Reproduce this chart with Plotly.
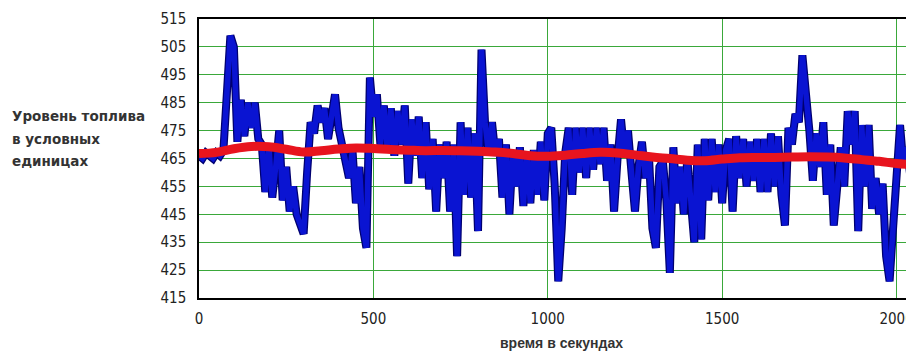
import plotly.graph_objects as go

# --- data ---
t_level = list(range(0, 2051, 10))
level = [
    466, 465, 467, 466, 465, 467, 466, 468, 490, 509,   # 0-90
    505, 471, 486, 473, 485, 476, 485, 472, 470, 453,   # 100-190
    470, 451, 462, 475, 450, 462, 446, 455, 445, 442,   # 200-290
    438, 460, 478, 474, 484, 478, 483, 472, 480, 488,   # 300-390
    476, 470, 465, 458, 468, 449, 462, 440, 433, 494,   # 400-490
    480, 488, 470, 484, 468, 483, 466, 482, 470, 484,   # 500-590
    456, 479, 466, 480, 458, 478, 454, 472, 446, 470,   # 600-690
    458, 471, 446, 470, 430, 478, 452, 476, 451, 474,   # 700-790
    439, 504, 478, 467, 478, 466, 472, 451, 470, 445,   # 800-890
    468, 455, 469, 448, 467, 449, 468, 452, 471, 450,   # 900-990
    474, 476, 455, 421, 440, 467, 476, 452, 476, 460,   # 1000-1090
    476, 458, 476, 461, 476, 463, 476, 457, 470, 446,   # 1100-1190
    465, 479, 466, 475, 460, 446, 462, 471, 458, 466,   # 1200-1290
    440, 433, 462, 464, 450, 424, 469, 449, 462, 445,   # 1300-1390
    465, 448, 435, 470, 436, 472, 450, 472, 453, 470,   # 1400-1490
    449, 468, 472, 446, 473, 458, 472, 455, 471, 457,   # 1500-1590
    472, 453, 472, 453, 474, 455, 473, 452, 441, 476,   # 1600-1690
    470, 481, 478, 502, 490, 475, 457, 474, 462, 478,   # 1700-1790
    452, 470, 441, 458, 469, 455, 482, 470, 482, 439,   # 1800-1890
    477, 455, 477, 447, 458, 445, 456, 430, 421, 440,   # 1900-1990
    460, 477, 462, 469, 458, 466,                       # 2000-2050
]

t_trend = list(range(0, 2051, 50))
trend = [
    466.8, 467.2, 468.5, 469.3, 469.2, 468.3, 467.3, 467.8, 468.4, 468.8,
    468.6, 468.2, 468.0, 467.8, 467.9, 467.8, 467.6, 467.3, 466.8, 466.0,
    465.8, 466.2, 466.8, 467.2, 467.0, 466.3, 465.5, 465.0, 464.4, 464.2,
    464.8, 465.3, 465.4, 465.4, 465.5, 465.6, 465.5, 465.2, 464.6, 464.0,
    463.2, 462.7,
]

x_ticks = [0, 500, 1000, 1500, 2000]
y_ticks = list(range(415, 516, 10))

y_title_lines = ["Уровень топлива", "в условных", "единицах"]
x_title = "время в секундах"

fig = go.Figure()
fig.add_trace(go.Scatter(x=t_level, y=level, mode="lines",
                         line=dict(color="#000070", width=8), hoverinfo="skip"))
fig.add_trace(go.Scatter(x=t_level, y=level, mode="lines",
                         line=dict(color="#0a14d2", width=5.5)))
fig.add_trace(go.Scatter(x=t_trend, y=trend, mode="lines",
                         line=dict(color="#e8141e", width=9, shape="spline")))

tick_font = dict(family="Liberation Sans Narrow, DejaVu Sans Condensed, Arial Narrow, sans-serif",
                 size=15, color="#222222")
grid_col = "#3aa83a"

# page has an 8px body margin; figure coordinates = page coordinates - 8
OFF = 8
W, H = 914 - OFF, 356 - OFF
PL, PR, PT, PB = 199 - OFF, 914 - OFF, 19 - OFF, 298 - OFF
pw, ph = PR - PL, PB - PT

fig.update_layout(
    template="none",
    width=W, height=H,
    margin=dict(l=PL, r=W - PR, t=PT, b=H - PB, pad=0),
    paper_bgcolor="white", plot_bgcolor="white",
    showlegend=False,
    xaxis=dict(range=[0, 2050], tickvals=x_ticks, ticktext=[str(v) for v in x_ticks],
               automargin=False,
               showgrid=True, gridcolor=grid_col, gridwidth=1,
               showline=True, linecolor="black", linewidth=1.5, mirror=True,
               zeroline=False, ticks="", tickfont=tick_font, ticklabelstandoff=6),
    yaxis=dict(range=[415, 515], tickvals=y_ticks, ticktext=[str(v) for v in y_ticks],
               automargin=False,
               showgrid=True, gridcolor=grid_col, gridwidth=1,
               showline=True, linecolor="black", linewidth=1.5,
               zeroline=False, ticks="", tickfont=tick_font, ticklabelstandoff=8),
)

label_font = dict(family="DejaVu Sans, sans-serif", size=13.5, color="#333333")
for i, line in enumerate(y_title_lines):
    fig.add_annotation(text="<b>" + line + "</b>", xref="paper", yref="paper",
                       x=(10 - OFF - PL) / pw, xanchor="left",
                       y=1 - (116 - OFF + 22.5 * i - PT) / ph, yanchor="middle",
                       showarrow=False, font=label_font)
fig.add_annotation(text="<b>" + x_title + "</b>", xref="paper", yref="paper",
                   x=(561 - OFF - PL) / pw, xanchor="center",
                   y=-(343 - OFF - PB) / ph, yanchor="middle",
                   showarrow=False,
                   font=dict(family="Liberation Sans, Arial, sans-serif", size=14, color="#333333"))

fig.write_html("out.html")
